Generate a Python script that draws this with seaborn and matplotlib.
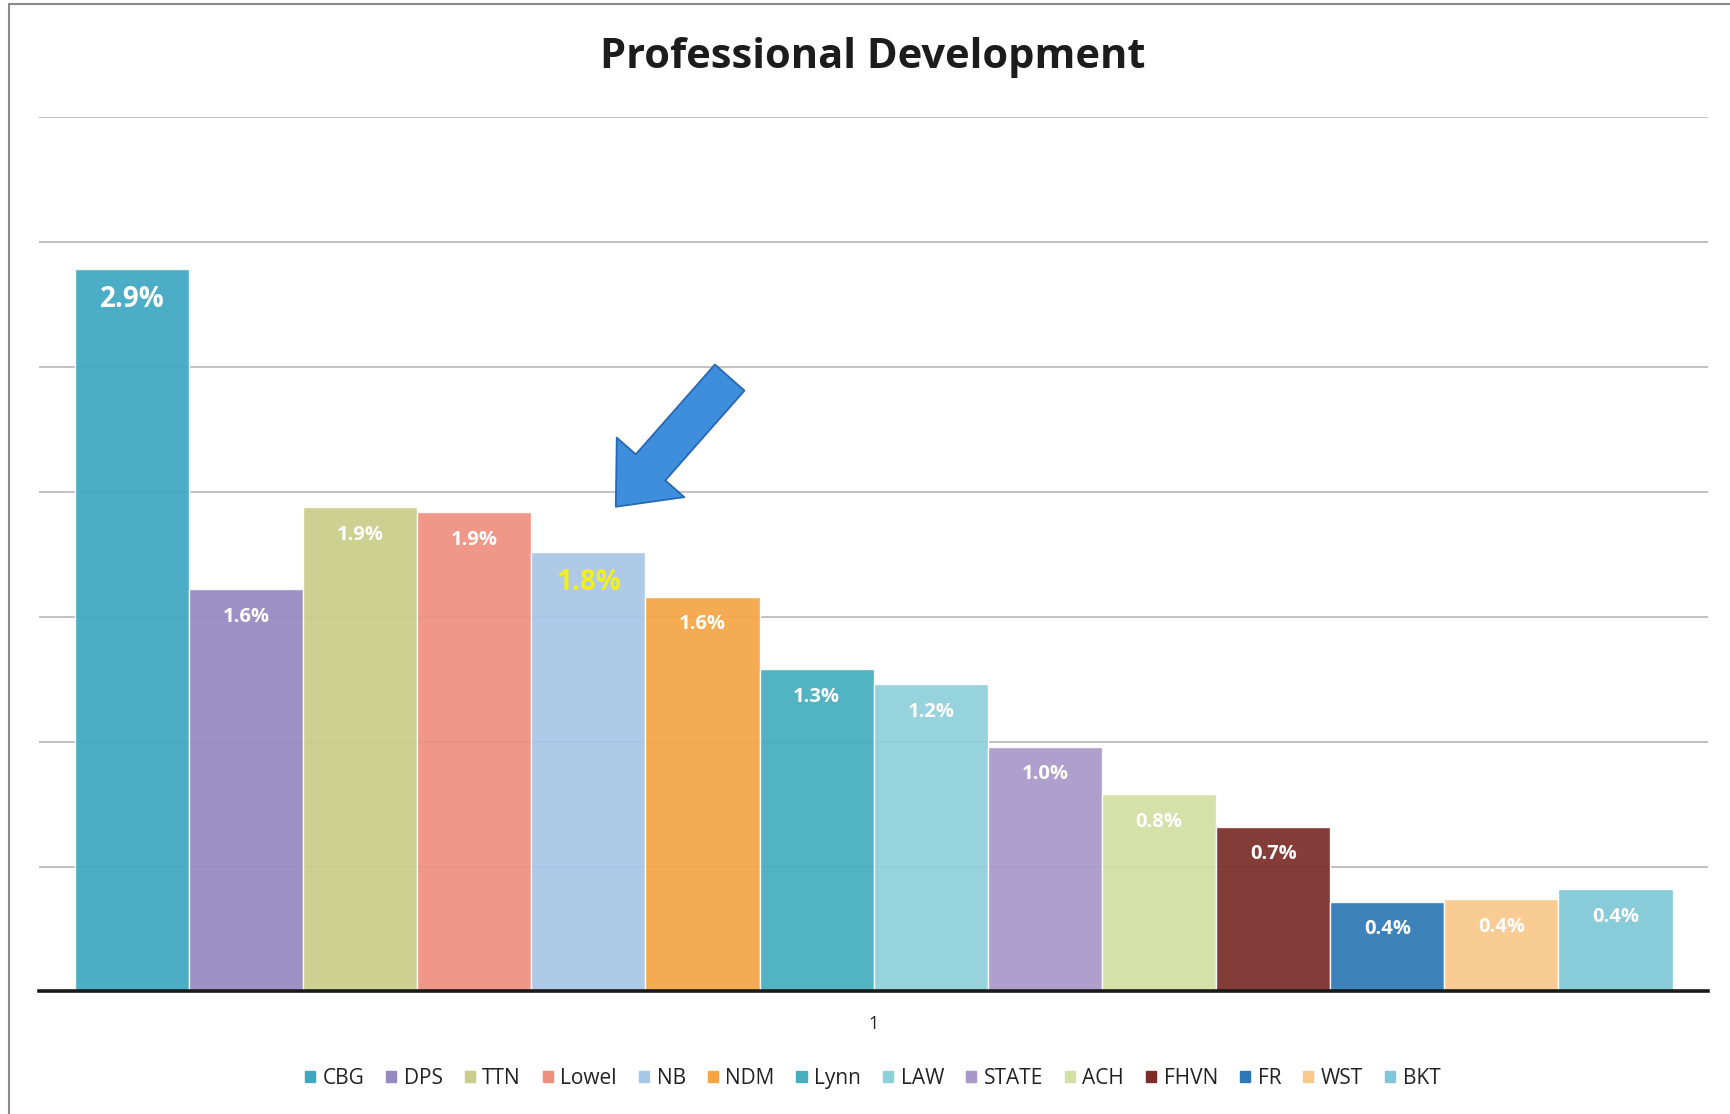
import matplotlib
matplotlib.use("Agg")
import matplotlib.pyplot as plt
import seaborn as sns
import pandas as pd
import numpy as np
from matplotlib.lines import Line2D

# Professional development spend share by site (percent)
schools = ["CBG", "DPS", "TTN", "Lowel", "NB", "NDM", "Lynn", "LAW",
           "STATE", "ACH", "FHVN", "FR", "WST", "BKT"]
rates = [2.89, 1.61, 1.94, 1.92, 1.76, 1.58, 1.29, 1.23,
         0.98, 0.79, 0.66, 0.36, 0.37, 0.41]
group = ["1"] * len(schools)
colors = ["#3EA8C2", "#9689C1", "#C8CE8A", "#EE8F7F", "#A8C6E6", "#F5A544",
          "#45AEBF", "#8ED0DA", "#A898C8", "#D3DFA3", "#7A2D29", "#2E79B5",
          "#F9C98B", "#7FC7D7"]
highlight = "NB"

sns.set_theme(style="white")
plt.rcParams["font.family"] = ["Open Sans", "DejaVu Sans"]

fig = plt.figure(figsize=(17.31, 11.14), dpi=100)
ax = fig.add_axes([0.0225, 0.110, 0.9645, 0.785])

df = pd.DataFrame({"group": group, "school": schools, "rate": rates})
sns.barplot(data=df, x="group", y="rate", hue="school", hue_order=schools,
            palette=dict(zip(schools, colors)), width=0.957, gap=0,
            saturation=1, errorbar=None, legend=False, ax=ax,
            edgecolor="white", linewidth=1.0, alpha=0.93, zorder=3)

ax.set_xlim(-0.5, 0.5)
ax.set_ylim(0, 3.5)
ax.set_yticks(np.arange(0, 3.51, 0.5))
ax.set_yticklabels([])
ax.yaxis.grid(True, color="#b0b0b0", linewidth=1.1, zorder=0)
ax.set_axisbelow(True)
for s in ["top", "left", "right"]:
    ax.spines[s].set_visible(False)
ax.spines["bottom"].set_color("#1a1a1a")
ax.spines["bottom"].set_linewidth(2.6)
ax.spines["bottom"].set_zorder(5)
ax.set_xlabel("")
ax.set_ylabel("")
ax.tick_params(axis="x", length=0, labelsize=13, pad=17, labelcolor="#222222")
ax.tick_params(axis="y", length=0)

# value labels inside the top of each bar
for name, cont in zip(schools, ax.containers):
    p = cont[0]
    v = p.get_height()
    big = name in ("CBG", highlight)
    ax.annotate(f"{v:.1f}%", xy=(p.get_x() + p.get_width() / 2, v),
                xytext=(0, -22 if big else -20), textcoords="offset points",
                ha="center", va="center",
                fontsize=20 if big else 14.5, fontweight="bold",
                color="#F3EF1E" if name == highlight else "white", zorder=6)

# arrow pointing at the highlighted bar
hp = ax.containers[schools.index(highlight)][0]
tip = (hp.get_x() + 0.74 * hp.get_width(), hp.get_height() + 0.18)
ax.annotate("", xy=tip, xytext=(82, 93), textcoords="offset points",
            arrowprops=dict(arrowstyle="simple,head_length=1.4,head_width=2.4,tail_width=1.05",
                            mutation_scale=27, fc="#3F8EDC", ec="#2767B3", lw=1.3,
                            shrinkA=0, shrinkB=0),
            zorder=7)

fig.text(0.504, 0.948, "Professional Development", ha="center", va="center",
         fontsize=30, fontweight="bold", color="#1c1c1c")

handles = [plt.Rectangle((0, 0), 1, 1, color=c) for c in colors]
fig.legend(handles, schools, loc="center", bbox_to_anchor=(0.504, 0.032),
           ncol=len(schools), frameon=False, fontsize=15,
           handlelength=0.5, handleheight=0.5, handletextpad=0.35,
           columnspacing=1.05, labelcolor="#222222")

# page frame
fig.add_artist(Line2D([0.005, 0.005], [0.0, 0.996], transform=fig.transFigure,
                      color="#8a8a8a", linewidth=1.5))
fig.add_artist(Line2D([0.005, 1.0], [0.996, 0.996], transform=fig.transFigure,
                      color="#8a8a8a", linewidth=1.5))

fig.savefig("out.png", dpi=100, facecolor="white")
